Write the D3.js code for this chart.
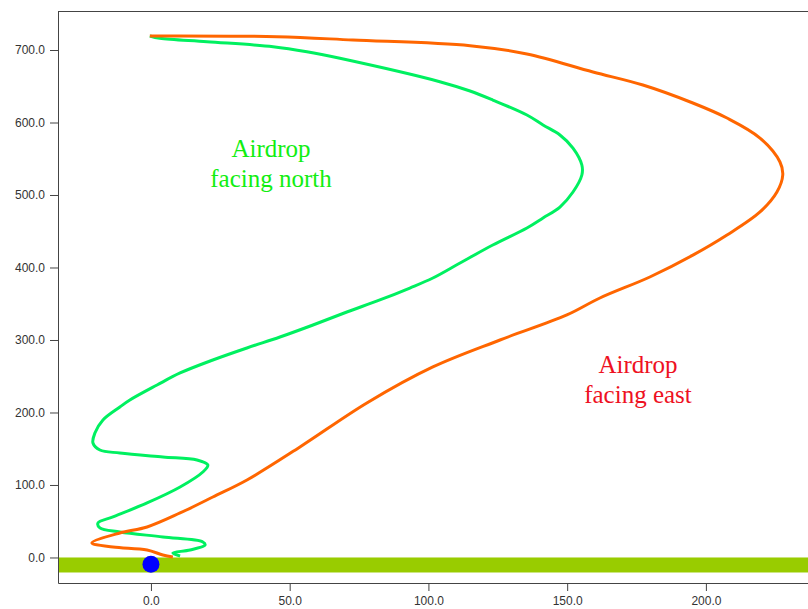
<!DOCTYPE html>
<html>
<head>
<meta charset="utf-8">
<script src="https://cdn.jsdelivr.net/npm/d3@7"></script>
<style>
  body { margin: 0; background: #fff; }
  .tick text { font-family: "Liberation Sans", Arial, sans-serif; font-size: 12px; fill: #333; }
  .label { font-family: "Liberation Serif", "Times New Roman", serif; font-size: 25px; text-anchor: middle; }
</style>
</head>
<body>
<div id="chart"></div>
<script>
const width = 808
const height = 609

// axis ticks
const xTicks = [0, 50, 100, 150, 200]
const yTicks = [0, 100, 200, 300, 400, 500, 600, 700]

// drop facing east (x, altitude)
const eastX = [-0.4, 45.4, 72.8, 115, 135.5, 159.3, 177.3, 195.3, 207.6, 219.5, 226.7, 227.7, 225.6, 219.5, 207.6, 195.3, 179.8, 161.8, 149.9, 125.8, 101.6, 77.8, 53.7, 34.6, 22.3, 10.5, -1.4, -11.2, -21.3, -13.7, -1.4, 4.3, 7.9]
const eastY = [719.3, 718.3, 713.8, 706, 694.5, 669.7, 651.7, 626.9, 606.2, 578.6, 545.5, 527.6, 504.1, 476.6, 444.8, 417, 386.9, 357.9, 334.5, 300, 262.8, 213.1, 152.4, 106.9, 83.4, 61.4, 42.1, 33.8, 20, 14.5, 10.3, 3.4, 0.7]

// drop facing north
const northX = [-0.4, 3.2, 20.2, 44, 56.2, 68.1, 104.1, 115, 123.2, 135.5, 141.3, 147.4, 152.1, 155.3, 155.3, 152.1, 147.4, 141.3, 135.5, 123.2, 111.4, 101.6, 93.3, 82.5, 70.6, 58.4, 46.5, 34.6, 22.3, 10.5, 2.2, -7.6, -11.2, -17.3, -20.2, -20.9, -18.4, -11.2, 4.3, 16.6, 20.5, 18.7, 10.5, -1.4, -13.7, -19.1, -18.4, -11.2, 4.3, 18.7, 19.5, 14.1, 7.9, 10.5]
const northY = [719.3, 716.1, 711.4, 704.6, 697.7, 688.6, 656.3, 643.4, 631, 610.3, 596.6, 582.8, 564.8, 541.4, 527.6, 504.1, 483.4, 468.3, 454.5, 431, 406.2, 385.5, 371.7, 355.2, 338.6, 320.7, 304.1, 289, 272.4, 254.5, 237.9, 217.2, 207.6, 189.7, 171.7, 157.9, 148.3, 144.1, 138.6, 134.5, 127.6, 117.9, 97.2, 75.2, 55.9, 47.6, 40.7, 35.2, 28.3, 21.4, 17.2, 10.3, 6.2, 2.1]

// ground band and target
const groundTop = 0
const groundBottom = -20.7
const target = [0, -9.4]

const svg = d3.select("#chart")
    .append("svg")
    .attr("width", width)
    .attr("height", height)

const x = d3.scaleLinear().domain([-33.5, 236.8]).range([58, 808])
const y = d3.scaleLinear().domain([-35.2, 753.8]).range([583, 11])

// ground
svg.append("rect")
    .attr("x", x(-33.5))
    .attr("width", width - x(-33.5))
    .attr("y", y(groundTop))
    .attr("height", y(groundBottom) - y(groundTop))
    .attr("fill", "#99cc00")

const line = d3.line()
    .x(d => x(d[0]))
    .y(d => y(d[1]))
    .curve(d3.curveCatmullRom.alpha(0.5))

svg.append("path")
    .datum(d3.zip(northX, northY))
    .attr("d", line)
    .attr("fill", "none")
    .attr("stroke", "#00f060")
    .attr("stroke-width", 3)

svg.append("path")
    .datum(d3.zip(eastX, eastY))
    .attr("d", line)
    .attr("fill", "none")
    .attr("stroke", "#ff6600")
    .attr("stroke-width", 3)

svg.append("circle")
    .attr("cx", x(target[0]))
    .attr("cy", y(target[1]))
    .attr("r", 8.5)
    .attr("fill", "#0000ff")

// axes
svg.append("g")
    .attr("transform", "translate(58,0)")
    .call(d3.axisLeft(y).tickValues(yTicks).tickFormat(d3.format(".1f")).tickSize(8).tickSizeOuter(0).tickPadding(5))
    .call(g => g.selectAll("path, line").attr("stroke", "#444"))

svg.append("g")
    .attr("transform", "translate(0,583)")
    .call(d3.axisBottom(x).tickValues(xTicks).tickFormat(d3.format(".1f")).tickSize(8).tickSizeOuter(0).tickPadding(5))
    .call(g => g.selectAll("path, line").attr("stroke", "#444"))

// top border
svg.append("line")
    .attr("x1", 58).attr("x2", width)
    .attr("y1", 11.5).attr("y2", 11.5)
    .attr("stroke", "#444")

// labels
const north = svg.append("text").attr("class", "label").attr("fill", "#11ee11")
north.append("tspan").attr("x", 271).attr("y", 157).text("Airdrop")
north.append("tspan").attr("x", 271).attr("y", 187).text("facing north")

const east = svg.append("text").attr("class", "label").attr("fill", "#ee1122")
east.append("tspan").attr("x", 638).attr("y", 373).text("Airdrop")
east.append("tspan").attr("x", 638).attr("y", 403).text("facing east")
</script>
</body>
</html>
